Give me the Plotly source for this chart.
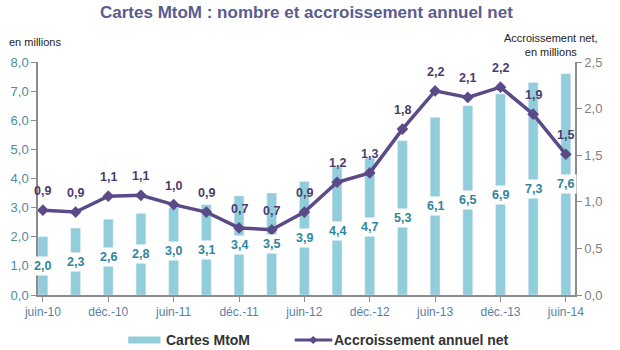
import plotly.graph_objects as go

categories = ["juin-10", "sept.-10", "déc.-10", "mars-11", "juin-11", "sept.-11", "déc.-11", "mars-12",
              "juin-12", "sept.-12", "déc.-12", "mars-13", "juin-13", "sept.-13", "déc.-13", "mars-14", "juin-14"]
cartes = [2.0, 2.3, 2.6, 2.8, 3.0, 3.1, 3.4, 3.5, 3.9, 4.4, 4.7, 5.3, 6.1, 6.5, 6.9, 7.3, 7.6]
accroissement = [0.91, 0.89, 1.06, 1.07, 0.97, 0.89, 0.72, 0.70, 0.89, 1.21, 1.31, 1.78, 2.19, 2.12, 2.23, 1.94, 1.51]
tick_labels = ["juin-10", "déc.-10", "juin-11", "déc.-11", "juin-12", "déc.-12", "juin-13", "déc.-13", "juin-14"]

BAR = "#92CDDC"
LINE = "#5B4A88"
BAR_TXT = "#31859C"
LINE_TXT = "#4B3B6E"
FONT = "Liberation Sans, Arial, sans-serif"

def fr(v):
    return f"{v:.1f}".replace(".", ",")

x = list(range(len(categories)))

fig = go.Figure()
fig.add_trace(go.Bar(x=x, y=cartes, marker_color=BAR, width=0.3, name="Cartes MtoM",
                     showlegend=False, hoverinfo="skip"))
fig.add_trace(go.Scatter(x=x, y=accroissement, yaxis="y2", mode="lines+markers",
                         line=dict(color=LINE, width=3.5),
                         marker=dict(symbol="diamond", size=9, color=LINE),
                         name="Accroissement annuel net", showlegend=False, hoverinfo="skip"))

annotations = []
for xi, v in zip(x, cartes):
    annotations.append(dict(x=xi, y=v / 2, xref="x", yref="y", text=f"<b>{fr(v)}</b>",
                            showarrow=False, bgcolor="white", borderpad=2,
                            font=dict(family=FONT, size=12.5, color=BAR_TXT)))
for xi, v in zip(x, accroissement):
    annotations.append(dict(x=xi, y=v, xref="x", yref="y2", text=f"<b>{fr(v)}</b>",
                            showarrow=False, yshift=19,
                            font=dict(family=FONT, size=12.5, color=LINE_TXT)))

annotations.append(dict(x=0.5, y=1, xref="paper", yref="paper", xanchor="center", yanchor="top",
                        yshift=61, showarrow=False,
                        text="<b>Cartes MtoM : nombre et accroissement annuel net</b>",
                        font=dict(family=FONT, size=17, color="#5A5C90")))

top_notes = [
    dict(text="en millions", x=-0.058, y=1.085, xanchor="left", yanchor="middle", align="left"),
    dict(text="Accroissement net,<br>en millions", x=1.047, y=1.075, xanchor="right", yanchor="middle", align="center"),
]
for a in top_notes:
    annotations.append(dict(xref="paper", yref="paper", showarrow=False,
                            font=dict(family=FONT, size=11, color="#222222"), **a))

# manual legend
annotations.append(dict(xref="paper", yref="paper", x=0.234, y=-0.193, xanchor="left", yanchor="middle",
                        showarrow=False, text="<b>Cartes MtoM</b>",
                        font=dict(family=FONT, size=14, color="#333333")))
annotations.append(dict(xref="paper", yref="paper", x=0.548, y=-0.193, xanchor="left", yanchor="middle",
                        showarrow=False, text="<b>Accroissement annuel net</b>",
                        font=dict(family=FONT, size=14, color="#333333")))

shapes = [
    dict(type="rect", xref="paper", yref="paper", x0=0.168, x1=0.228, y0=-0.208, y1=-0.178,
         fillcolor=BAR, line=dict(width=0)),
    dict(type="line", xref="paper", yref="paper", x0=0.478, x1=0.548, y0=-0.193, y1=-0.193,
         line=dict(color=LINE, width=3)),
    dict(type="path", xref="paper", yref="paper",
         path="M 0.5125 -0.176 L 0.5205 -0.193 L 0.5125 -0.210 L 0.5045 -0.193 Z",
         fillcolor=LINE, line=dict(width=0)),
]

fig.update_layout(
    width=620, height=350,
    margin=dict(l=38, r=45, t=62, b=55),
    plot_bgcolor="white", paper_bgcolor="white",
    font=dict(family=FONT, size=12),
    xaxis=dict(range=[-0.15, 16.28], tickmode="array", tickvals=x[::2], ticktext=tick_labels,
               showline=True, linecolor="#8C8C8C", linewidth=1.5, ticks="outside", ticklen=5,
               tickcolor="#8C8C8C", showgrid=False, zeroline=False,
               tickfont=dict(family=FONT, size=12, color="#5A7FA6")),
    yaxis=dict(range=[0, 8], dtick=1, tickformat=".1f", showline=True, linecolor="#8C8C8C",
               linewidth=1.5, ticks="outside", ticklen=5, tickcolor="#8C8C8C", showgrid=False,
               zeroline=False, tickfont=dict(family=FONT, size=13, color="#4A8DA0")),
    yaxis2=dict(range=[0, 2.5], dtick=0.5, tickformat=".1f", overlaying="y", side="right",
                showline=True, linecolor="#8C8C8C", linewidth=1.5, ticks="outside", ticklen=5,
                tickcolor="#8C8C8C", showgrid=False, zeroline=False,
                tickfont=dict(family=FONT, size=13, color="#7F7F7F")),
    separators=",.",
    annotations=annotations,
    shapes=shapes,
    showlegend=False,
)

fig.write_html("out.html")
